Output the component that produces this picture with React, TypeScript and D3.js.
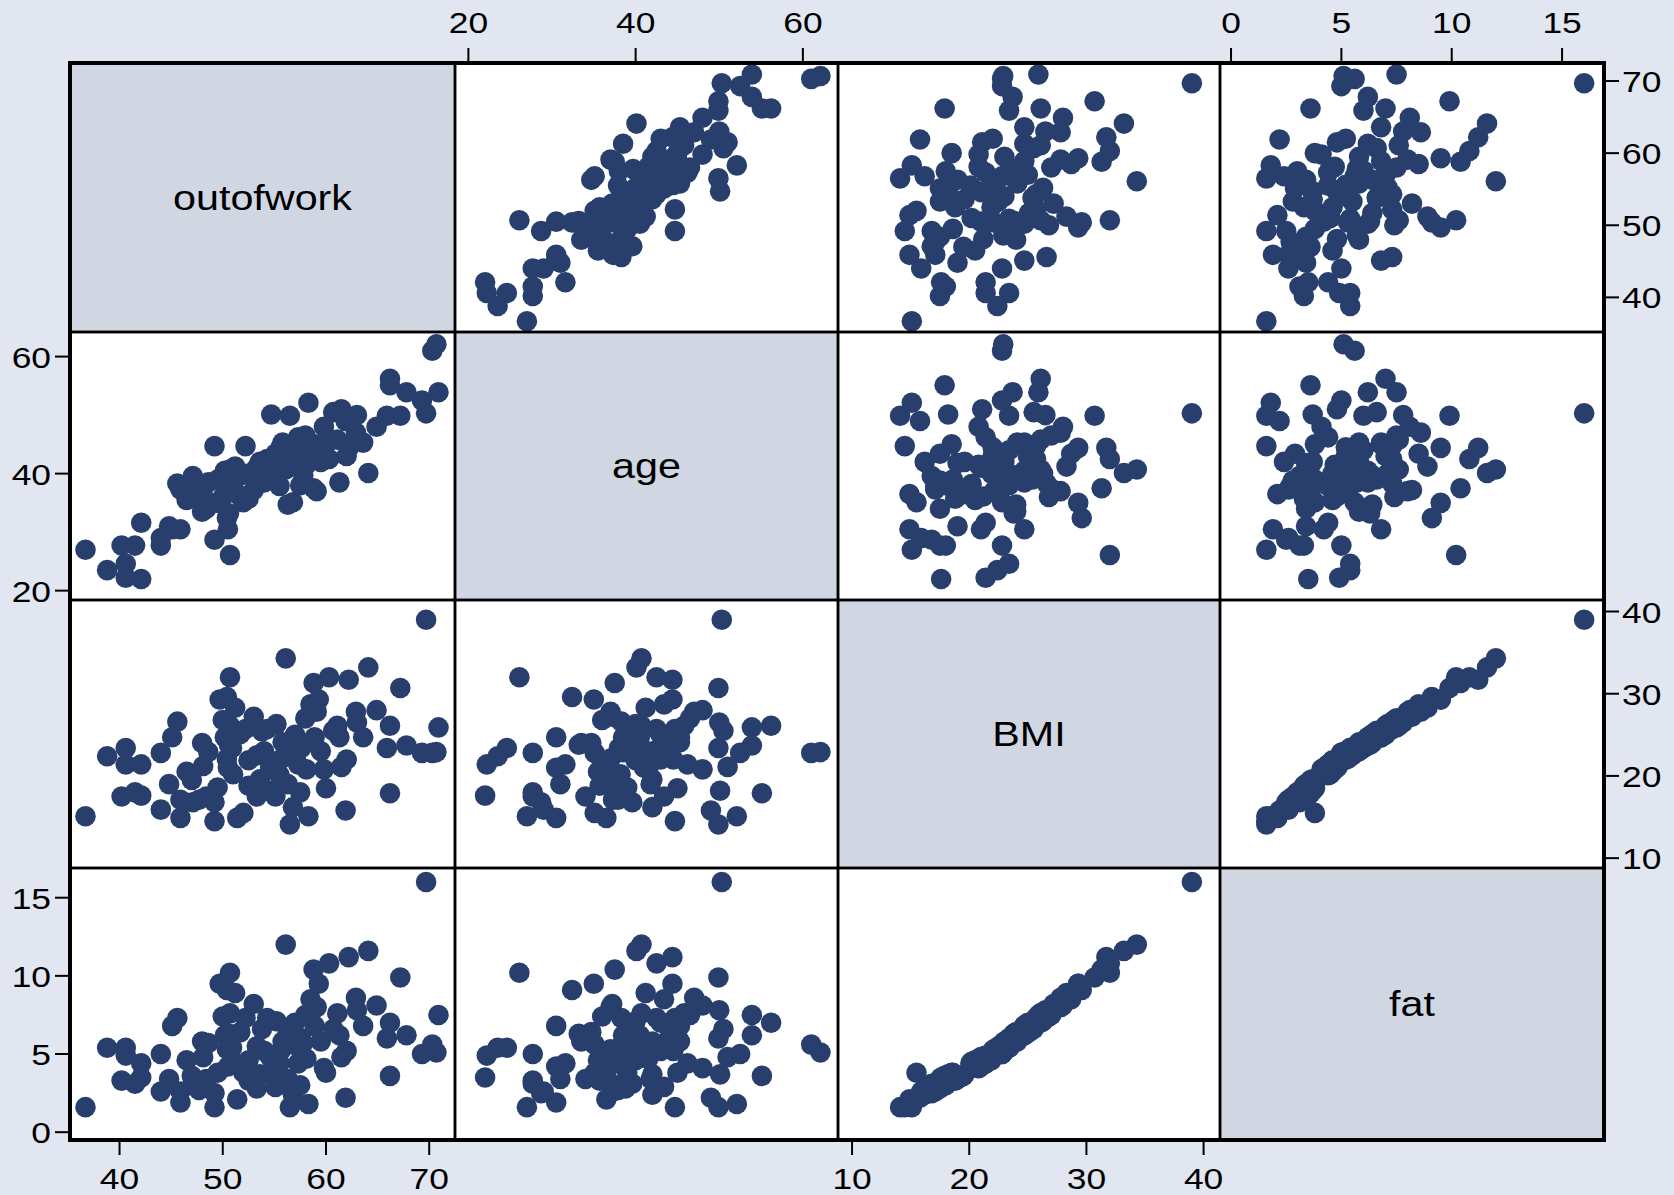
import React from 'react';
import * as d3 from 'd3';

const variables = ['outofwork', 'age', 'BMI', 'fat'];

const outofwork = [
  36.7, 38.8, 40.2, 40.6, 40.6, 41.5, 42.1, 42.1, 44.0, 44.0,
  45.1, 45.6, 45.9, 45.9, 47.1, 47.7, 48.1, 48.4, 49.2, 49.2,
  49.7, 50.4, 50.2, 50.4, 50.7, 50.7, 50.9, 51.2, 51.4, 51.7,
  52.0, 52.2, 52.5, 53.3, 53.3, 53.8, 54.3, 54.7, 55.1, 55.5,
  55.8, 56.1, 56.5, 56.8, 56.8, 57.3, 57.6, 57.8, 58.1, 58.3,
  58.5, 58.8, 58.9, 59.1, 59.3, 59.8, 60.3, 61.1, 61.3, 61.5,
  61.9, 62.2, 62.9, 63.6, 64.1, 64.9, 65.9, 66.2, 66.2, 67.2,
  67.8, 69.3, 69.7, 70.3, 70.7, 70.9,
  47.0, 48.6, 49.5, 50.0, 51.0, 52.5, 53.0, 53.6, 54.0, 54.6,
  55.2, 55.6, 56.3, 57.0, 57.5, 58.0, 59.5, 60.0, 60.7, 62.0,
  63.0, 48.0, 46.5, 44.8, 56.3, 50.5, 50.6,
];

const age = [
  27.0, 23.5, 27.7, 24.6, 22.2, 27.7, 22.0, 31.6, 29.0, 27.7,
  30.5, 38.3, 37.3, 30.5, 39.6, 37.9, 36.1, 34.0, 44.7, 28.7,
  35.0, 32.4, 40.5, 37.0, 26.1, 40.7, 38.0, 41.2, 36.5, 39.7,
  35.1, 44.7, 35.7, 38.8, 41.0, 39.0, 42.5, 50.1, 43.4, 37.9,
  45.3, 40.7, 49.9, 35.1, 42.0, 46.2, 44.0, 39.7, 41.5, 52.1,
  43.4, 37.5, 45.0, 37.0, 44.4, 48.0, 42.5, 45.8, 38.5, 51.0,
  49.0, 44.4, 47.0, 45.3, 40.1, 48.0, 49.9, 56.2, 55.1, 49.9,
  53.9, 52.5, 50.3, 61.0, 62.1, 53.9,
  36.5, 38.5, 39.0, 36.0, 38.2, 40.0, 37.2, 42.0, 38.5, 41.0,
  40.0, 44.5, 41.8, 43.0, 38.0, 46.5, 42.0, 45.0, 50.5, 43.0,
  50.0, 33.5, 35.5, 31.0, 34.7, 30.5, 33.2,
];

const BMI = [
  15.1, 22.4, 17.5, 23.4, 21.4, 18.0, 17.6, 21.4, 15.9, 22.8,
  24.7, 26.6, 17.1, 14.9, 16.8, 17.1, 21.2, 17.5, 14.5, 16.8,
  29.3, 29.6, 24.7, 22.1, 32.0, 26.1, 23.4, 28.3, 14.9, 25.1,
  15.5, 25.7, 18.8, 17.5, 22.5, 25.4, 25.7, 18.2, 17.5, 20.1,
  24.1, 34.3, 14.1, 22.8, 16.2, 21.4, 23.4, 23.8, 20.8, 15.1,
  28.7, 31.3, 24.7, 27.8, 29.3, 20.8, 32.0, 26.1, 24.7, 21.1,
  15.8, 31.7, 27.8, 24.7, 33.2, 28.0, 23.4, 26.1, 17.9, 30.7,
  23.7, 22.8, 39.0, 22.8, 22.9, 25.9,
  19.5, 22.9, 18.6, 26.8, 20.2, 21.9, 27.2, 19.6, 23.0, 21.0,
  26.3, 22.0, 19.0, 25.0, 18.0, 27.0, 23.0, 18.5, 25.5, 22.0,
  26.5, 24.0, 20.5, 19.0, 24.0, 21.0, 23.8,
];

const fat = [
  1.6, 5.4, 3.3, 5.4, 4.9, 3.1, 3.5, 4.4, 2.6, 5.0,
  6.8, 7.3, 2.6, 1.9, 3.1, 2.7, 4.8, 3.4, 1.6, 2.5,
  9.5, 9.1, 6.2, 5.3, 10.2, 7.6, 5.4, 8.9, 2.1, 6.4,
  3.8, 7.3, 3.3, 2.8, 5.5, 6.6, 7.3, 3.7, 2.9, 4.4,
  5.8, 12.0, 1.6, 5.6, 2.4, 4.4, 6.0, 5.7, 4.7, 1.8,
  8.5, 10.4, 6.8, 8.0, 9.5, 4.1, 10.8, 7.6, 6.2, 4.8,
  2.2, 11.2, 8.6, 6.8, 11.6, 8.1, 6.0, 7.0, 3.6, 9.9,
  6.2, 5.0, 16.0, 5.6, 5.1, 7.5,
  3.6, 5.7, 3.8, 7.4, 4.5, 4.6, 8.2, 3.7, 5.2, 4.8,
  7.1, 5.2, 3.4, 7.0, 3.0, 7.5, 5.8, 3.8, 6.6, 5.2,
  7.8, 5.8, 4.6, 3.4, 6.4, 4.2, 6.3,
];

const outofworkTicks = [40, 50, 60, 70];
const ageTicks = [20, 40, 60];
const BMITicks = [10, 20, 30, 40];
const fatTicks = [0, 5, 10, 15];

const values: Record<string, number[]> = { outofwork, age, BMI, fat };
const tickSets: Record<string, number[]> = { outofwork: outofworkTicks, age: ageTicks, BMI: BMITicks, fat: fatTicks };
const domains: Record<string, [number, number]> = {
  outofwork: [35.2, 72.5],
  age: [18.4, 64.2],
  BMI: [8.8, 41.4],
  fat: [-0.5, 16.9],
};

const W = 1674;
const H = 1195;
const colEdges = [70, 455, 838, 1220, 1604];
const rowEdges = [63, 332, 600, 868, 1140];

const BG = '#e1e6f0';
const DIAG = '#d0d7e3';
const MARK = '#283f6e';
const FONT = '"Liberation Sans", Arial, Helvetica, sans-serif';
const SX = 1.18;

function Label({ x, y, text, size, anchor }: { x: number; y: number; text: string; size: number; anchor: string }) {
  return (
    <text
      transform={`translate(${x},${y}) scale(${SX},1)`}
      fontFamily={FONT}
      fontSize={size}
      textAnchor={anchor as any}
      fill="#000"
    >
      {text}
    </text>
  );
}

export default function App() {
  const n = Math.min(outofwork.length, age.length, BMI.length, fat.length);
  const xScales = variables.map((v, j) => d3.scaleLinear().domain(domains[v]).range([colEdges[j], colEdges[j + 1]]));
  const yScales = variables.map((v, i) => d3.scaleLinear().domain(domains[v]).range([rowEdges[i + 1], rowEdges[i]]));

  const cells: any[] = [];
  variables.forEach((vy, i) => {
    variables.forEach((vx, j) => {
      const x0 = colEdges[j], x1 = colEdges[j + 1], y0 = rowEdges[i], y1 = rowEdges[i + 1];
      if (i === j) {
        cells.push(
          <g key={`c${i}${j}`}>
            <rect x={x0} y={y0} width={x1 - x0} height={y1 - y0} fill={DIAG} />
            <Label x={(x0 + x1) / 2} y={(y0 + y1) / 2 + 12} text={vx} size={35} anchor="middle" />
          </g>
        );
      } else {
        const xs = xScales[j], ys = yScales[i];
        const xv = values[vx], yv = values[vy];
        const pts = d3.range(n).map((k) => (
          <circle key={k} cx={xs(xv[k])} cy={ys(yv[k])} r={10.3} fill={MARK} />
        ));
        cells.push(
          <g key={`c${i}${j}`}>
            <rect x={x0} y={y0} width={x1 - x0} height={y1 - y0} fill="#fff" />
            {pts}
          </g>
        );
      }
    });
  });

  const borders: any[] = [];
  variables.forEach((_, i) => {
    variables.forEach((__, j) => {
      borders.push(
        <rect
          key={`b${i}${j}`}
          x={colEdges[j]}
          y={rowEdges[i]}
          width={colEdges[j + 1] - colEdges[j]}
          height={rowEdges[i + 1] - rowEdges[i]}
          fill="none"
          stroke="#000"
          strokeWidth={2.5}
        />
      );
    });
  });

  const axes: any[] = [];
  [1, 3].forEach((j) => {
    const v = variables[j];
    tickSets[v].forEach((t) => {
      const x = xScales[j](t);
      axes.push(<line key={`tt${j}${t}`} x1={x} x2={x} y1={rowEdges[0]} y2={rowEdges[0] - 15} stroke="#000" strokeWidth={2} />);
      axes.push(<Label key={`tl${j}${t}`} x={x} y={33} text={String(t)} size={30} anchor="middle" />);
    });
  });
  [0, 2].forEach((j) => {
    const v = variables[j];
    tickSets[v].forEach((t) => {
      const x = xScales[j](t);
      axes.push(<line key={`bt${j}${t}`} x1={x} x2={x} y1={rowEdges[4]} y2={rowEdges[4] + 15} stroke="#000" strokeWidth={2} />);
      axes.push(<Label key={`bl${j}${t}`} x={x} y={1189} text={String(t)} size={30} anchor="middle" />);
    });
  });
  [1, 3].forEach((i) => {
    const v = variables[i];
    tickSets[v].forEach((t) => {
      const y = yScales[i](t);
      axes.push(<line key={`lt${i}${t}`} x1={colEdges[0]} x2={colEdges[0] - 15} y1={y} y2={y} stroke="#000" strokeWidth={2} />);
      axes.push(<Label key={`ll${i}${t}`} x={51} y={y + 11} text={String(t)} size={30} anchor="end" />);
    });
  });
  [0, 2].forEach((i) => {
    const v = variables[i];
    tickSets[v].forEach((t) => {
      const y = yScales[i](t);
      axes.push(<line key={`rt${i}${t}`} x1={colEdges[4]} x2={colEdges[4] + 15} y1={y} y2={y} stroke="#000" strokeWidth={2} />);
      axes.push(<Label key={`rl${i}${t}`} x={1622} y={y + 11} text={String(t)} size={30} anchor="start" />);
    });
  });

  return (
    <svg
      width={W}
      height={H}
      viewBox={`0 0 ${W} ${H}`}
      style={{ position: 'absolute', left: 0, top: 0, display: 'block' }}
    >
      <rect x={0} y={0} width={W} height={H} fill={BG} />
      {cells}
      {borders}
      <rect
        x={colEdges[0]}
        y={rowEdges[0]}
        width={colEdges[4] - colEdges[0]}
        height={rowEdges[4] - rowEdges[0]}
        fill="none"
        stroke="#000"
        strokeWidth={4}
      />
      {axes}
    </svg>
  );
}
